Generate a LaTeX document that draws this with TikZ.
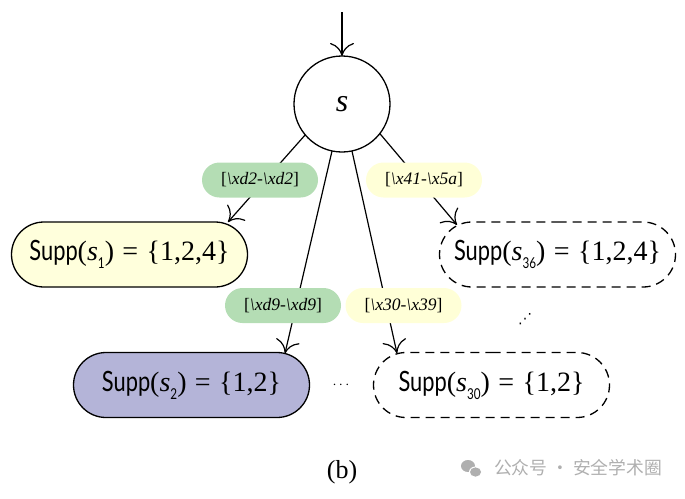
\documentclass[tikz,border=0pt]{standalone}
\usepackage{fontspec}
\usepackage{graphicx}
\setmainfont{Liberation Serif}
\newfontfamily\suppfont[FakeStretch=0.78]{Lato}
\newfontfamily\cjkfont{Noto Sans CJK SC}
\newfontfamily\symbfont{DejaVu Sans}
\usetikzlibrary{shapes.misc,arrows.meta,calc}
\definecolor{yellowbg}{RGB}{255,255,220}
\definecolor{lavender}{RGB}{180,180,216}
\definecolor{greenlbl}{RGB}{180,221,180}
\definecolor{yellowlbl}{RGB}{255,255,215}
\definecolor{wmgray}{RGB}{175,175,175}
\newcommand\suppeq[2]{{\suppfont Supp}(\textit{s}\raisebox{-0.28em}{\suppfont\fontsize{15}{15}\selectfont #1})\hspace{0.3em}=\hspace{0.3em}\{#2\}}
\begin{document}
\begin{tikzpicture}[x=1pt,y=-1pt,
  every node/.style={inner sep=0pt, outer sep=0pt},
  arr/.style={line width=1.2pt, -{Computer Modern Rightarrow[length=13pt,width=24pt,line width=1.2pt]}},
  state/.style={circle, draw, line width=1.3pt, minimum size=96pt, font=\fontsize{32}{32}\selectfont\itshape},
  supp/.style={rounded rectangle, draw, line width=1.3pt, minimum width=236pt, minimum height=65pt, font=\fontsize{28}{30}\selectfont},
  dashedsupp/.style={supp, dash pattern=on 9pt off 6pt},
  lbl/.style={rounded rectangle, minimum width=116pt, minimum height=35pt, font=\fontsize{17.5}{20}\selectfont},
]
\useasboundingbox (0,0) rectangle (685,498);
\node[state] (s) at (342,104) {s};
\coordinate (top) at (342,12);
\node[supp, fill=yellowbg] (s1) at (129.5,254.5) {\suppeq{1}{1,2,4}};
\node[dashedsupp] (s36) at (557.5,254.5) {\suppeq{36}{1,2,4}};
\node[supp, fill=lavender] (s2) at (191.5,385) {\suppeq{2}{1,2}};
\node[dashedsupp] (s30) at (491.5,385) {\suppeq{30}{1,2}};

\draw[arr] (top) -- (s);
\draw[arr] (s.220) -- ($(s1.north)+(98.5,0)$);
\draw[arr] (s.322) -- ($(s36.center)+(-100.5,-29.6)$);
\draw[arr] (s.258) -- ($(s2.center)+(93.5,-31.7)$);
\draw[arr] (s.282) -- ($(s30.center)+(-94.5,-31.7)$);

\node[lbl, fill=greenlbl] (l1) at (260,180) {[\textit{\textbackslash xd2-\textbackslash xd2}]};
\node[lbl, fill=yellowlbl] (l2) at (424,180) {[\textit{\textbackslash x41-\textbackslash x5a}]};
\node[lbl, fill=greenlbl] (l3) at (283,305.5) {[\textit{\textbackslash xd9-\textbackslash xd9}]};
\node[lbl, fill=yellowlbl] (l4) at (403.5,305.5) {[\textit{\textbackslash x30-\textbackslash x39}]};

\node[font=\fontsize{15}{15}\selectfont] (hdots) at (341,385) {$\cdots$};
\node[font=\symbfont\fontsize{14}{14}\selectfont] (udots) at (525,319) {⋰};

\node[font=\fontsize{26}{28}\selectfont] (cap) at (342,472) {(b)};

\fill[wmgray] (468,466) ellipse [x radius=7, y radius=6];
\fill[white] (475.5,472) ellipse [x radius=6.5, y radius=5.5];
\fill[wmgray] (475.5,472) ellipse [x radius=5.5, y radius=4.6];
\node[anchor=west, text=wmgray, font=\cjkfont\fontsize{17.8}{18}\selectfont] (wm) at (494,468) {公众号 · 安全学术圈};
\end{tikzpicture}
\end{document}
